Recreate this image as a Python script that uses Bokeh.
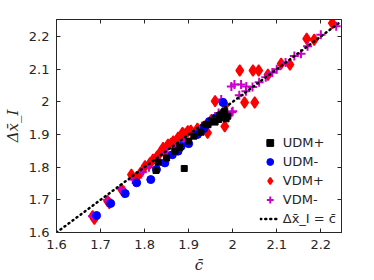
from bokeh.plotting import figure
from bokeh.models import LinearAxis, FixedTicker, Legend, LegendItem
from bokeh.embed import file_html
from bokeh.resources import INLINE

# ---- data ----
udm_plus_x = [1.826, 1.831, 1.850, 1.869, 1.890, 1.880, 1.900, 1.912, 1.928, 1.939, 1.944, 1.955, 1.968, 1.970, 1.982, 1.989, 1.985, 1.960, 1.975]
udm_plus_y = [1.790, 1.815, 1.828, 1.849, 1.796, 1.860, 1.880, 1.895, 1.907, 1.930, 1.930, 1.940, 1.946, 1.951, 1.971, 1.956, 1.948, 1.938, 1.962]

udm_minus_x = [1.691, 1.723, 1.756, 1.782, 1.814, 1.827, 1.846, 1.863, 1.876, 1.883, 1.900, 1.920, 1.935, 1.947, 1.960, 1.978]
udm_minus_y = [1.652, 1.689, 1.719, 1.752, 1.762, 1.793, 1.813, 1.838, 1.849, 1.864, 1.872, 1.900, 1.918, 1.940, 1.950, 1.998]

vdm_plus_x = [1.682, 1.686, 1.716, 1.720, 1.748, 1.752, 1.770, 1.782, 1.791, 1.801, 1.812, 1.819, 1.828, 1.835, 1.842, 1.853, 1.860, 1.865,
              1.876, 1.886, 1.890, 1.898, 1.905, 1.920, 1.936, 1.943, 1.952, 1.960, 1.982, 1.983, 2.027, 2.050, 2.016, 2.046, 2.059,
              2.080, 2.110, 2.130, 2.168, 2.185, 2.226, 1.850, 1.870]
vdm_plus_y = [1.650, 1.642, 1.696, 1.690, 1.731, 1.726, 1.777, 1.770, 1.783, 1.803, 1.812, 1.823, 1.832, 1.844, 1.859, 1.869, 1.872, 1.879,
              1.890, 1.905, 1.900, 1.910, 1.912, 1.918, 1.925, 1.905, 1.945, 2.002, 1.925, 1.990, 1.998, 1.998, 2.096, 2.096, 2.096,
              2.083, 2.117, 2.114, 2.193, 2.190, 2.241, 1.835, 1.855]

vdm_minus_x = [1.682, 1.716, 1.745, 1.773, 1.795, 1.810, 1.830, 1.850, 1.870, 1.890, 1.910, 1.930, 1.950, 1.968, 1.974, 1.998, 2.000, 1.997,
               2.004, 2.019, 2.031, 2.015, 2.030, 2.045, 2.060, 2.075, 2.090, 2.100, 2.120, 2.140, 2.155, 2.170, 2.200, 2.235]
vdm_minus_y = [1.650, 1.700, 1.735, 1.762, 1.785, 1.800, 1.820, 1.845, 1.862, 1.880, 1.900, 1.925, 1.945, 1.966, 2.007, 1.968, 1.971, 2.047,
               2.053, 2.053, 2.047, 2.020, 2.032, 2.045, 2.060, 2.075, 2.090, 2.100, 2.120, 2.140, 2.147, 2.170, 2.205, 2.231]

ref_x = [1.6, 2.24]
ref_y = [1.6, 2.24]

tick_vals = [1.6, 1.7, 1.8, 1.9, 2.0, 2.1, 2.2]
tick_labels = {1.6: "1.6", 1.7: "1.7", 1.8: "1.8", 1.9: "1.9", 2.0: "2", 2.1: "2.1", 2.2: "2.2"}

# ---- figure ----
p = figure(frame_width=285, frame_height=213, x_range=(1.6, 2.247), y_range=(1.6, 2.252),
           output_backend="svg", toolbar_location=None,
           min_border_left=44, min_border_top=19, min_border_right=18, min_border_bottom=30,
           x_axis_label="c̄", y_axis_label="Δx̄_I")
p.xgrid.visible = False
p.ygrid.visible = False
p.outline_line_color = "#262626"
p.outline_line_width = 1
p.background_fill_color = "white"
p.border_fill_color = "white"

for ax in p.xaxis + p.yaxis:
    ax.ticker = FixedTicker(ticks=tick_vals)
    ax.major_label_overrides = tick_labels
    ax.major_tick_in = 4
    ax.major_tick_out = 0
    ax.minor_tick_line_color = None
    ax.axis_line_color = "#262626"
    ax.major_tick_line_color = "#262626"
    ax.major_label_text_font = "DejaVu Sans"
    ax.major_label_text_font_size = "13px"
    ax.major_label_text_color = "#262626"
    ax.major_label_standoff = 7
    ax.axis_label_text_font = "DejaVu Serif"
    ax.axis_label_text_font_style = "italic"
    ax.axis_label_text_font_size = "15px"
    ax.axis_label_text_color = "#262626"
    ax.axis_label_standoff = 4

# top and right axes: tick marks only (drawn as minor ticks, so no labels)
for loc in ("above", "right"):
    a = LinearAxis(ticker=FixedTicker(ticks=[], minor_ticks=tick_vals),
                   major_tick_line_color=None, major_tick_in=0, major_tick_out=0,
                   minor_tick_in=4, minor_tick_out=0, minor_tick_line_color="#262626",
                   axis_line_color="#262626")
    p.add_layout(a, loc)

r_vp = p.scatter(vdm_plus_x, vdm_plus_y, marker="diamond", size=11, fill_color="#FF0000", line_color="#FF0000", line_width=1.5)
r_vm = p.scatter(vdm_minus_x, vdm_minus_y, marker="cross", size=9, line_color="#CC00CC", line_width=2)
r_um = p.scatter(udm_minus_x, udm_minus_y, marker="circle", size=8, fill_color="#0000FF", line_color="#0000FF")
r_up = p.scatter(udm_plus_x, udm_plus_y, marker="square", size=6, fill_color="#000000", line_color="#000000")
r_ln = p.line(ref_x, ref_y, line_color="black", line_width=2.5, line_dash="1 4", line_cap="round")

legend = Legend(items=[
    LegendItem(label="UDM+", renderers=[r_up]),
    LegendItem(label="UDM-", renderers=[r_um]),
    LegendItem(label="VDM+", renderers=[r_vp]),
    LegendItem(label="VDM-", renderers=[r_vm]),
    LegendItem(label="Δx̄_I = c̄", renderers=[r_ln]),
], location="bottom_right")
legend.border_line_color = None
legend.background_fill_alpha = 0
legend.label_text_font = "DejaVu Sans"
legend.label_text_font_size = "13px"
legend.label_text_color = "#262626"
legend.label_height = 17
legend.glyph_height = 17
legend.glyph_width = 20
legend.label_standoff = 3
legend.spacing = 2
legend.padding = 2
legend.margin = 5
p.add_layout(legend, "center")

open("out.html", "w").write(file_html(p, INLINE))
